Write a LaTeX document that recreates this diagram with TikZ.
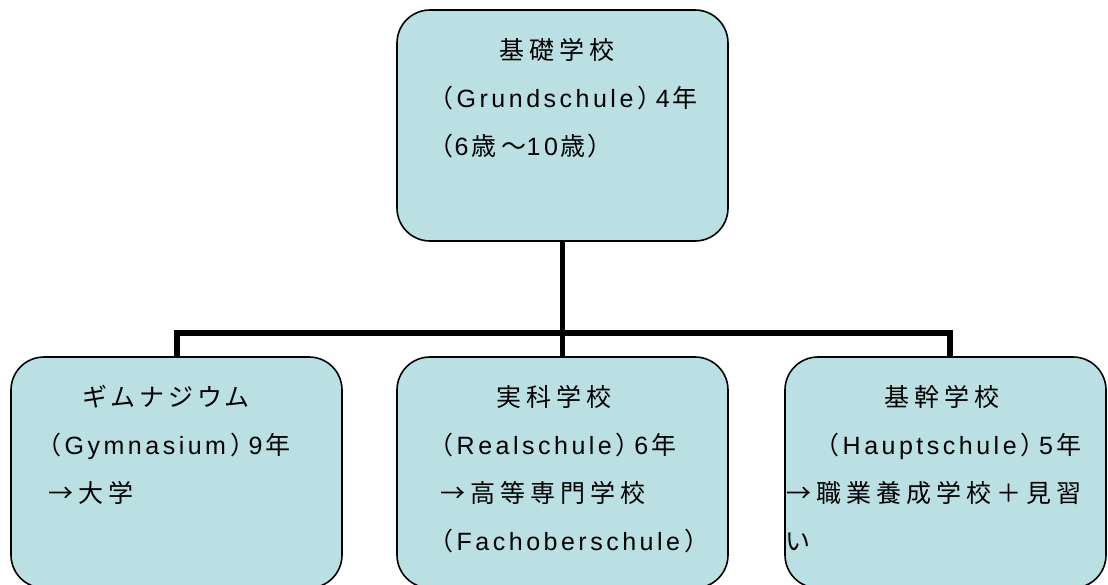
\documentclass[tikz,border=0pt]{standalone}
\usepackage{fontspec}
\newfontfamily\jp{Noto Sans CJK JP}[LetterSpace=20,RawFeature={+palt}]
\newfontfamily\latfont{Liberation Sans}[LetterSpace=14]
\newcommand\latn[1]{{\latfont #1}\kern3pt}
\newcommand\lpar{（\kern4pt}
\newcommand\rpar{\kern2pt）\kern5pt}
\usetikzlibrary{backgrounds}
\definecolor{boxfill}{RGB}{187,224,227}
\begin{document}
\begin{tikzpicture}[x=1pt,y=-1pt,
  box/.style={draw=black, line width=1.6pt, fill=boxfill, rounded corners=33pt,
    rectangle, inner sep=0pt, minimum height=231pt},
  link/.style={line width=5.5pt, line join=miter},
  txt/.style={font=\jp\fontsize{25}{30}\selectfont, inner sep=0pt, anchor=base west},
  ttl/.style={txt, anchor=base}]
\useasboundingbox (0,0) rectangle (1108,584);
\clip (0,0) rectangle (1108,584);
\node[box, minimum width=331pt] (top) at (562.5,125.5) {};
\node[box, minimum width=331pt] (left) at (176.5,472.5) {};
\node[box, minimum width=331pt] (mid) at (562.5,472.5) {};
\node[box, minimum width=321pt] (right) at (945.5,472.5) {};
\coordinate (jl) at (177,333);
\coordinate (jr) at (950,333);
\begin{scope}[on background layer]
\draw[link] (jl |- left.north) -- (jl) -- (jr) -- (jr |- right.north);
\draw[link] (top.south) -- (mid.north);
\end{scope}
% top box text
\node[ttl] (topA) at (557,59) {基礎学校};
\node[txt] (topB) at (440,107) {\lpar\latn{Grundschule}\rpar\latn{4}年};
\node[txt] (topC) at (440,155) {（\kern2pt\latn{6}歳～\latn{10}歳\rpar};
% left box text
\node[ttl] (leftA) at (166,406) {ギムナジウム};
\node[txt] (leftB) at (48,454) {\lpar\latn{Gymnasium}\rpar\latn{9}年};
\node[txt] (leftC) at (48,502) {→大学};
% middle box text
\node[ttl] (midA) at (554,406) {実科学校};
\node[txt] (midB) at (440,454) {\lpar\latn{Realschule}\rpar\latn{6}年};
\node[txt] (midC) at (440,502) {→高等専門学校};
\node[txt] (midD) at (440,550) {\lpar\latn{Fachoberschule}\rpar};
% right box text
\node[ttl] (rightA) at (942,406) {基幹学校};
\node[txt] (rightB) at (826,454) {\lpar\latn{Hauptschule}\rpar\latn{5}年};
\node[txt] (rightC) at (786,502) {→職業養成学校＋見習};
\node[txt] (rightD) at (786,550) {い};
\end{tikzpicture}
\end{document}
